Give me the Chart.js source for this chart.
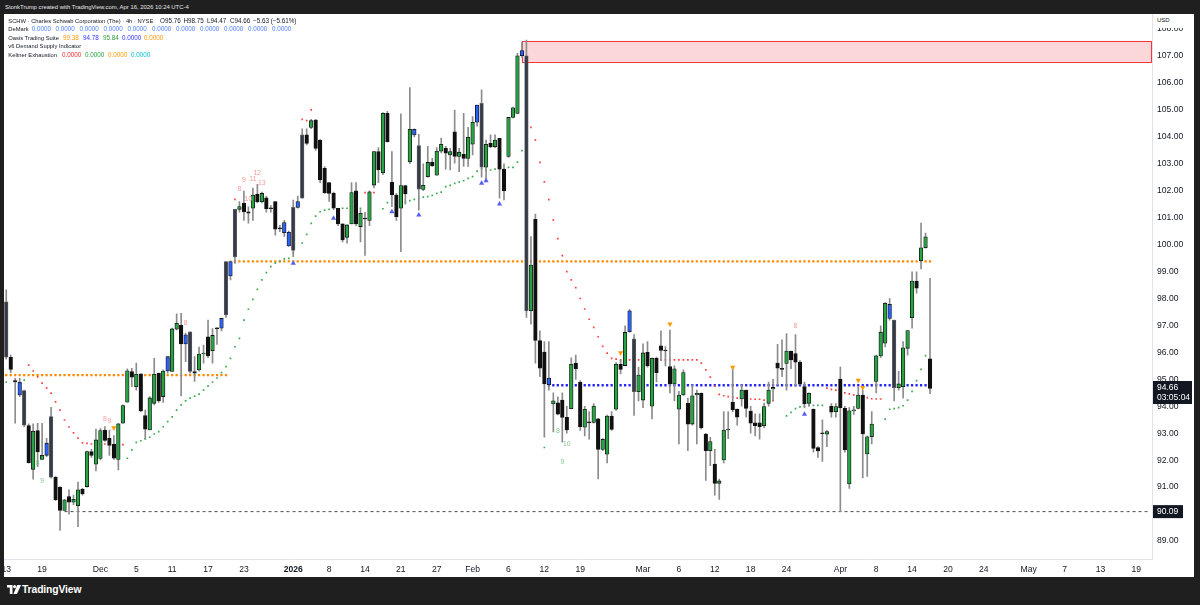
<!DOCTYPE html>
<html><head><meta charset="utf-8">
<script src="https://cdn.jsdelivr.net/npm/chart.js@4.4.1/dist/chart.umd.min.js"></script>
<style>
html,body{margin:0;padding:0;background:#1f1f1f;width:1200px;height:605px;overflow:hidden;font-family:"Liberation Sans",Arial,sans-serif;}
#hdr{position:absolute;left:5px;top:3px;color:#e8e8e8;font-size:5.9px;line-height:8px;white-space:nowrap;}
#panel{position:absolute;left:4px;top:14px;width:1190px;height:563px;background:#fff;}
#c{position:absolute;left:0;top:0;}
.ln{position:absolute;left:0;height:8px;line-height:8px;font-size:5.8px;color:#131722;white-space:nowrap;}
.ln span{position:absolute;top:0;}
.ln span.v{font-size:6.3px;}
#usd{position:absolute;left:1149px;top:0px;width:37px;height:14px;background:#fff;font-size:6px;line-height:13px;color:#131722;padding-left:4px;box-sizing:border-box;}
#foot{position:absolute;left:7px;top:584px;height:12px;}
#foot svg{position:absolute;left:0;top:1px;}
#foot span{position:absolute;left:15px;top:-1px;color:#fff;font-size:10.3px;font-weight:bold;line-height:13px;white-space:nowrap;letter-spacing:-0.1px;}
</style></head>
<body>
<div id="hdr">StonkTrump created with TradingView.com, Apr 16, 2026 10:24 UTC-4</div>
<div id="panel">
  <canvas id="c" width="1190" height="563"></canvas>
  <div class="ln" style="top:2.7px"><span style="left:4.3px">SCHW · Charles Schwab Corporation (The) · 4h · NYSE</span><span class="v" style="left:156px">O95.76</span><span class="v" style="left:179.5px">H98.75</span><span class="v" style="left:203px">L94.47</span><span class="v" style="left:226px">C94.66</span><span class="v" style="left:249px">−5.63 (−5.61%)</span></div>
  <div class="ln" style="top:11.2px"><span style="left:4.3px">DeMark</span><span class="v" style="left:27.7px;color:#4a7dff">0.0000</span><span class="v" style="left:51.5px;color:#4a7dff">0.0000</span><span class="v" style="left:75.5px;color:#4a7dff">0.0000</span><span class="v" style="left:99.5px;color:#4a7dff">0.0000</span><span class="v" style="left:123.5px;color:#4a7dff">0.0000</span><span class="v" style="left:148px;color:#4a7dff">0.0000</span><span class="v" style="left:172px;color:#4a7dff">0.0000</span><span class="v" style="left:196px;color:#4a7dff">0.0000</span><span class="v" style="left:220px;color:#4a7dff">0.0000</span><span class="v" style="left:244px;color:#4a7dff">0.0000</span><span class="v" style="left:268px;color:#4a7dff">0.0000</span></div>
  <div class="ln" style="top:19.7px"><span style="left:4.3px">Oasis Trading Suite</span><span class="v" style="left:59px;color:#ff9800">99.38</span><span class="v" style="left:79px;color:#3030ff">94.78</span><span class="v" style="left:99px;color:#2e9e3e">95.84</span><span class="v" style="left:118px;color:#3030ff">0.0000</span><span class="v" style="left:140px;color:#ff9800">0.0000</span></div>
  <div class="ln" style="top:28.2px"><span style="left:4.3px">v6 Demand Supply Indicator</span></div>
  <div class="ln" style="top:36.7px"><span style="left:4.3px">Keltner Exhaustion</span><span class="v" style="left:58px;color:#ff2a2a">0.0000</span><span class="v" style="left:81px;color:#26a23b">0.0000</span><span class="v" style="left:104px;color:#ff9800">0.0000</span><span class="v" style="left:127px;color:#00bcd4">0.0000</span></div>
  <div id="usd">USD</div>
</div>
<div id="foot">
  <svg width="14" height="9" viewBox="0 0 14 9"><path d="M0 0h5.5v9H2.8V2.6H0z" fill="#fff"/><circle cx="7.6" cy="1.6" r="1.6" fill="#fff"/><path d="M10.2 0H14l-4 9H6.4z" fill="#fff"/></svg>
  <span>TradingView</span>
</div>
<script>
// ---------- DATA ----------
const N_SLOTS = 256;
const X_TICKS = [[0,'13'],[8,'19'],[21,'Dec'],[29,'5'],[37,'11'],[45,'17'],[53,'23'],[64,'2026'],[72,'8'],[80,'14'],[88,'21'],[96,'27'],[104,'Feb'],[112,'6'],[120,'12'],[128,'19'],[142,'Mar'],[150,'6'],[158,'12'],[166,'18'],[174,'24'],[186,'Apr'],[194,'8'],[202,'14'],[210,'20'],[218,'24'],[228,'May'],[236,'7'],[244,'13'],[252,'19']];
const Y_TICKS = [89,90,91,92,93,94,95,96,97,98,99,100,101,102,103,104,105,106,107,108];
const Y_MIN = 88.313, Y_MAX = 108.559;

const OPEN = [97.88,95.82,94.95,94.89,94.58,93.28,91.66,93.10,92.03,92.18,
93.62,91.37,90.99,90.13,90.65,90.44,90.31,90.92,91.02,92.32,
91.85,92.06,93.12,92.81,92.59,92.03,93.37,94.15,95.29,94.73,
95.20,93.65,93.12,94.11,95.23,94.36,95.31,95.29,96.86,97.00,
96.31,96.76,95.29,95.35,95.94,96.58,96.06,96.90,96.90,97.39,
98.84,99.55,101.31,101.53,101.22,101.35,101.88,101.59,101.74,101.35,
101.60,100.62,100.82,100.46,99.78,101.38,101.72,104.07,104.35,104.62,
103.88,102.83,102.30,101.90,101.35,100.77,100.27,100.77,102.00,100.67,
100.97,100.90,102.21,103.45,102.67,104.87,102.31,101.84,101.35,102.19,
103.08,104.28,103.68,102.05,102.52,103.05,102.58,103.47,103.57,103.33,
104.19,103.27,103.35,103.20,103.73,104.54,105.24,102.87,103.76,103.63,
103.94,102.80,103.27,104.72,104.87,107.01,107.01,97.55,100.94,96.44,
96.01,95.05,94.09,94.13,94.23,93.59,93.91,95.60,94.89,93.22,
93.42,93.40,93.53,92.40,92.22,93.64,93.89,95.56,95.51,96.77,
96.50,94.54,94.23,96.00,94.00,95.78,96.24,96.08,95.47,94.83,
93.89,94.42,94.11,93.34,94.42,94.48,92.97,92.35,91.85,91.14,
92.01,93.12,94.15,93.90,94.27,94.60,93.82,93.39,93.39,93.28,
94.11,94.64,95.60,95.40,95.59,96.05,95.96,95.64,94.73,94.11,
93.90,92.47,93.00,92.96,94.00,93.80,95.01,93.92,91.12,93.83,
93.92,94.42,92.23,92.87,94.92,95.87,96.34,97.78,97.20,94.69,
94.73,96.15,97.29,98.65,99.40,99.88,95.76];
const HIGH = [98.32,95.90,95.04,95.04,94.60,93.35,93.35,93.37,93.37,92.81,
93.96,91.39,91.02,90.55,90.90,90.70,91.19,90.95,92.34,92.40,
93.15,93.17,93.25,93.12,92.91,93.37,94.05,95.39,95.41,95.60,
95.20,93.86,94.36,95.78,95.23,95.35,95.84,96.90,97.43,97.45,
96.72,96.76,95.84,96.20,96.27,97.20,96.88,96.92,97.26,99.37,
99.40,101.31,101.60,101.99,101.40,102.10,102.24,101.95,101.80,101.45,
101.60,100.72,100.90,100.50,101.65,101.80,104.30,104.30,104.65,104.65,
103.90,102.90,102.30,101.95,101.35,100.77,100.73,102.30,102.30,101.30,
101.20,102.00,103.46,103.60,104.90,104.95,103.45,101.90,104.85,102.20,
105.83,104.30,104.09,103.00,103.65,103.20,103.60,103.95,103.65,103.57,
104.99,103.57,104.87,104.35,104.75,105.18,105.74,103.88,104.07,104.07,
103.94,103.00,104.72,105.10,107.10,107.50,107.59,100.30,101.13,96.80,
96.40,96.40,94.50,94.35,94.50,94.00,95.80,95.90,94.95,94.00,
93.80,94.10,93.55,92.80,93.67,93.80,95.62,95.72,96.99,97.60,
96.66,95.45,96.32,96.40,95.80,95.83,96.80,96.22,96.83,95.50,
94.55,95.35,94.30,94.80,94.60,94.50,93.00,92.85,92.40,91.30,
93.80,93.80,95.40,93.90,94.80,94.60,94.00,93.72,93.72,94.12,
94.90,95.00,96.30,96.47,96.70,96.05,96.66,95.70,94.90,94.50,
93.90,92.50,93.50,93.10,94.10,94.10,95.45,94.00,93.95,94.00,
94.70,94.60,92.90,93.80,95.90,96.99,97.85,98.00,97.20,95.30,
96.40,96.81,98.99,98.99,100.80,100.43,98.75];
const LOW = [95.75,95.25,93.37,94.36,93.24,91.89,91.29,91.76,92.03,92.13,
91.33,90.50,89.39,90.13,90.00,90.35,89.53,90.70,91.00,92.10,
91.60,92.01,92.70,92.18,92.03,91.64,93.37,94.15,94.73,94.60,
93.80,92.79,93.12,94.05,94.14,94.14,95.23,95.29,96.83,94.38,
95.66,95.23,94.92,95.30,95.60,95.80,95.60,96.30,96.80,97.30,
98.69,99.30,101.20,100.90,100.80,100.90,101.55,101.55,101.20,101.20,
100.35,100.48,100.30,99.93,99.55,101.35,101.72,103.70,104.30,103.50,
102.30,101.90,101.60,101.30,100.70,100.10,100.05,100.77,100.70,100.10,
99.60,100.70,102.10,102.30,102.60,103.80,101.41,100.90,99.74,101.50,
103.00,104.00,101.28,102.00,102.50,102.90,102.58,103.40,102.80,102.77,
103.02,102.71,102.90,102.90,103.33,104.40,102.50,102.40,103.60,103.60,
101.72,101.66,103.24,104.70,104.85,106.95,97.30,97.05,95.60,95.10,
92.85,94.60,93.05,93.68,92.67,93.00,93.90,95.00,93.10,92.90,
92.78,93.37,91.30,92.35,91.90,93.10,93.85,95.20,95.50,96.75,
93.66,94.20,93.95,95.45,93.53,94.90,95.70,95.50,94.50,94.20,
92.60,94.40,92.35,93.30,92.60,93.15,91.25,91.80,90.70,90.54,
91.90,92.80,93.80,93.30,94.00,93.60,93.00,92.90,92.78,93.20,
94.00,94.20,94.80,95.10,94.60,95.40,94.75,94.80,93.95,94.00,
92.30,92.10,91.95,92.50,93.60,93.60,90.09,92.30,90.95,93.70,
93.90,91.34,91.40,92.60,94.50,95.80,96.20,97.20,94.20,94.60,
94.30,95.90,96.90,98.20,99.10,99.88,94.47];
const CLOSE = [95.82,95.37,94.90,94.42,93.30,91.91,93.07,92.31,92.18,92.63,
91.37,90.53,90.13,90.53,90.44,90.55,90.90,90.75,92.32,92.18,
92.75,93.10,92.73,92.55,92.07,93.35,94.03,95.32,95.08,95.19,
93.83,93.15,94.31,95.19,94.20,95.31,95.84,96.87,97.08,96.31,
96.65,95.29,95.23,95.94,95.97,95.87,96.63,96.87,97.26,99.37,
99.37,101.31,101.41,101.22,101.17,101.84,101.59,101.90,101.32,101.33,
100.57,100.58,100.44,99.95,101.38,101.60,104.07,103.76,104.60,103.57,
102.40,101.93,101.90,101.35,100.77,100.17,100.73,101.93,100.77,101.16,
100.95,101.96,103.45,102.77,104.87,103.82,101.84,101.04,102.19,101.88,
104.28,104.07,102.06,102.20,103.05,102.92,103.47,103.72,103.39,103.45,
103.27,103.43,103.20,103.98,104.54,105.18,102.87,103.72,103.63,103.88,
102.80,102.00,104.72,105.08,107.01,107.20,97.55,99.24,96.44,95.41,
94.83,94.80,94.20,93.71,93.59,93.12,95.56,95.40,93.24,93.89,
93.38,94.01,92.40,92.77,93.64,93.14,95.56,95.37,96.74,97.54,
94.54,95.16,95.98,95.50,95.78,95.25,96.07,96.05,94.83,95.39,
94.42,95.25,93.34,94.39,94.48,93.21,92.35,92.69,91.14,91.23,
93.12,93.14,93.86,93.60,94.60,93.92,93.37,93.28,93.24,93.99,
94.60,94.70,95.41,95.37,96.05,95.72,95.64,94.82,94.09,94.48,
92.44,92.34,92.98,93.06,93.78,93.99,93.95,92.38,93.83,93.86,
94.42,92.97,92.87,93.34,95.87,96.75,97.82,97.26,94.69,94.83,
96.17,96.81,98.65,98.38,99.88,100.29,94.66];

// indicator-highlighted bars
const BLUE_BARS = [3,9,36,40,48,50,62,63,65,91,105,115,121,139,197];
const EXHAUST_BARS = [0,4,10,41,49,51,64,66,92,106,116,140,198];

// trailing stops [barIndex, price]
const RED_STOPS = [[5,95.53],[6,95.31],[7,95.09],[8,94.86],[9,94.68],[10,94.49],[11,94.16],[12,93.86],[13,93.49],[14,93.23],[15,93.01],[16,92.82],[17,92.64],[18,92.62],[19,92.60],[22,92.60],[23,92.60],[26,92.58],
[51,101.68],[66,104.65],[67,104.60],[68,105.00],[80,101.93],[81,101.93],[82,101.93],
[117,104.35],[118,103.88],[119,103.05],[120,102.33],[121,101.67],[122,100.91],[123,100.22],[124,99.59],[125,99.00],[126,98.69],[127,98.40],[128,98.00],[129,97.61],[130,97.23],[131,96.93],[132,96.58],[133,96.22],[134,95.97],[135,95.78],[136,95.75],
[137,95.72],[138,95.72],[139,95.72],[140,95.72],[141,95.72],[142,95.72],[143,95.72],[144,95.72],[145,95.72],[146,95.72],[147,95.72],[148,95.72],[149,95.72],[150,95.72],[151,95.72],[152,95.72],[153,95.72],[154,95.72],
[155,95.60],[156,95.35],[157,95.08],[158,94.75],[159,94.44],[160,94.39],[161,94.36],[162,94.33],[163,94.30],[164,94.29],[165,94.28],[166,94.27],[167,94.26],[168,94.26],[169,94.23],[170,94.21],[171,94.21],
[183,94.67],[184,94.63],[185,94.60],[186,94.55],[187,94.50],[188,94.46],[189,94.42],[190,94.38],[191,94.35],[192,94.32],[193,94.28],[194,94.27],[195,94.27]];
const GREEN_STOPS = [[0,94.90],[4,94.97],
[27,92.07],[28,92.38],[29,92.66],[30,92.72],[31,92.79],[32,92.85],[33,92.97],[34,93.06],[35,93.24],[36,93.43],[37,93.61],[38,93.86],[39,94.05],[40,94.20],[41,94.30],[42,94.38],[43,94.45],[44,94.60],[45,94.75],[46,94.90],[47,95.05],[48,95.25],[49,95.47],[50,95.78],[51,96.21],[52,96.52],[53,97.20],[54,97.60],[55,97.97],[56,98.34],[57,98.69],[58,98.96],[59,99.18],[60,99.31],[61,99.38],[62,99.47],[63,99.49],[64,99.69],[66,100.06],[67,100.38],[68,100.79],[69,101.06],[70,101.22],[71,101.28],[72,101.31],
[75,101.35],[76,101.35],[79,101.35],[84,101.33],[85,101.56],
[89,101.57],[90,101.63],[91,101.68],[92,101.72],[93,101.76],[94,101.78],[95,101.83],[96,101.90],[97,101.95],[98,102.15],[99,102.20],[100,102.27],[101,102.32],[102,102.37],[103,102.46],[104,102.52],[105,102.73],[106,102.82],[107,102.77],[108,102.77],[109,102.80],[110,102.82],[111,102.82],[112,102.87],[113,102.87],[114,103.06],[115,103.49],
[120,92.47],
[174,93.64],[175,93.77],[176,93.91],[177,93.98],[178,94.00],[179,94.03],[180,94.03],[181,94.03],[182,94.03],
[196,93.52],[197,93.89],[198,93.91],[199,93.95],[200,94.02],[201,94.23],[202,94.55],[203,94.95],[204,95.37],[205,95.88]];

// signal markers [barIndex, price]
const BUY_SIGNALS = [[64,99.31],[73,100.98],[86,101.22],[92,101.10],[106,102.28],[107,102.37],[110,101.51],[178,93.70]];
const SELL_SIGNALS = [[24,93.20],[137,95.99],[148,97.05],[162,95.45],[190,94.97],[191,94.70]];

// DeMark counts [barIndex, price, label]
const DEMARK_RED = [[22,93.54,'8'],[23,93.46,'9'],[40,97.08,'8'],[52,102.05,'8'],[53,102.40,'9'],[54,101.68,'10'],[55,102.43,'11'],[56,102.65,'12'],[57,102.28,'13'],[176,96.98,'8']];
const DEMARK_GREEN = [[7,91.88,'8'],[8,91.24,'9'],[123,93.06,'8'],[124,91.93,'9'],[125,92.59,'10']];

// levels [fromIndex, toIndex, price]
const LEVEL_SUPPLY = [51, 206, 99.38];
const LEVEL_OLD = [0, 49, 95.16];
const LEVEL_DEMAND = [121, 206, 94.78];
const LEVEL_LOW = [13, 255, 90.09];
const ZONE = [115, 106.78, 107.56];   // start bar, low, high
const LAST_PRICE = 94.66, LAST_TIMER = '03:05:04';

// ---------- BUILD ----------
const FONT = '"Liberation Sans", Arial, sans-serif';
Chart.defaults.font.family = FONT;
const labels = new Array(N_SLOTS).fill('');
X_TICKS.forEach(([i, t]) => labels[i] = t);
function sparse(pairs) { const a = new Array(N_SLOTS).fill(null); pairs.forEach(([i, v]) => a[i] = v); return a; }
function level(l) { const a = new Array(N_SLOTS).fill(null); for (let i = l[0]; i <= l[1]; i++) a[i] = l[2]; return a; }

const bodyData = OPEN.map((o, i) => [Math.min(o, CLOSE[i]), Math.max(o, CLOSE[i])]);
const wickData = HIGH.map((h, i) => [LOW[i], h]);
const bodyFill = OPEN.map((o, i) => EXHAUST_BARS.includes(i) ? '#363a45' : BLUE_BARS.includes(i) ? '#2962ff' : (CLOSE[i] >= o ? '#27a343' : '#101010'));
const bodyEdge = OPEN.map((o, i) => EXHAUST_BARS.includes(i) ? '#5d616b' : '#121212');

const annot = {
  id: 'annot',
  beforeDatasetsDraw(chart) {
    const {ctx, chartArea: ca, scales: {x, y}} = chart;
    const x0 = x.getPixelForValue(ZONE[0]);
    const yt = y.getPixelForValue(ZONE[2]), yb = y.getPixelForValue(ZONE[1]);
    ctx.save();
    ctx.fillStyle = 'rgba(242,54,69,0.2)';
    ctx.fillRect(x0, yt, ca.right - x0, yb - yt);
    ctx.strokeStyle = '#f23645'; ctx.lineWidth = 1;
    ctx.strokeRect(Math.round(x0) + 0.5, Math.round(yt) + 0.5, ca.right - Math.round(x0) - 1, Math.round(yb - yt));
    ctx.restore();
  },
  afterDatasetsDraw(chart) {
    const {ctx, scales: {x, y}} = chart;
    ctx.save();
    ctx.font = '6.8px ' + FONT; ctx.textAlign = 'center'; ctx.textBaseline = 'middle';
    ctx.fillStyle = '#f59a9a';
    DEMARK_RED.forEach(([i, p, t]) => ctx.fillText(t, x.getPixelForValue(i), y.getPixelForValue(p)));
    ctx.fillStyle = '#7fcb8d';
    DEMARK_GREEN.forEach(([i, p, t]) => ctx.fillText(t, x.getPixelForValue(i), y.getPixelForValue(p)));
    ctx.restore();
  },
  afterDraw(chart) {
    const {ctx, chartArea: ca, scales: {y}} = chart;
    ctx.save();
    const py = y.getPixelForValue(LAST_PRICE);
    ctx.fillStyle = '#131722';
    ctx.fillRect(ca.right + 1, py - 7.5, 39, 23);
    ctx.fillStyle = '#fff'; ctx.font = '8.5px ' + FONT; ctx.textBaseline = 'middle'; ctx.textAlign = 'left';
    ctx.fillText(LAST_PRICE.toFixed(2), ca.right + 5, py - 1);
    ctx.fillText(LAST_TIMER, ca.right + 5, py + 9.5);
    const ly = y.getPixelForValue(LEVEL_LOW[2]);
    ctx.fillStyle = '#131722';
    ctx.fillRect(ca.right + 1, ly - 6.5, 30, 13);
    ctx.fillStyle = '#fff';
    ctx.fillText(LEVEL_LOW[2].toFixed(2), ca.right + 5, ly);
    ctx.restore();
  }
};

new Chart(document.getElementById('c'), {
  type: 'bar',
  data: {
    labels,
    datasets: [
      {type: 'line', data: level(LEVEL_LOW), borderColor: '#4a4a4a', borderWidth: 1, borderDash: [3, 3], pointRadius: 0, order: 9},
      {type: 'line', data: level(LEVEL_SUPPLY), showLine: false, pointStyle: 'rect', pointRadius: 1.6, pointBackgroundColor: '#ff8a00', pointBorderWidth: 0, order: 8},
      {type: 'line', data: level(LEVEL_OLD), showLine: false, pointStyle: 'rect', pointRadius: 1.6, pointBackgroundColor: '#ff8a00', pointBorderWidth: 0, order: 8},
      {type: 'line', data: level(LEVEL_DEMAND), showLine: false, pointStyle: 'rect', pointRadius: 1.6, pointBackgroundColor: '#2525ff', pointBorderWidth: 0, order: 8},
      {type: 'line', data: sparse(RED_STOPS), showLine: false, pointStyle: 'rect', pointRadius: 1.2, pointBackgroundColor: '#ff4040', pointBorderWidth: 0, order: 7},
      {type: 'line', data: sparse(GREEN_STOPS), showLine: false, pointStyle: 'rect', pointRadius: 1.2, pointBackgroundColor: '#3daa4e', pointBorderWidth: 0, order: 7},
      {type: 'bar', data: wickData, backgroundColor: '#8c8c8c', barThickness: 1, grouped: false, borderWidth: 0, order: 5},
      {type: 'bar', data: bodyData, backgroundColor: bodyFill, borderColor: bodyEdge, borderWidth: 0.8, borderSkipped: false, barThickness: 3.6, grouped: false, minBarLength: 1, order: 4},
      {type: 'line', data: sparse(BUY_SIGNALS), showLine: false, pointStyle: 'triangle', pointRadius: 3, pointBackgroundColor: '#5560f0', pointBorderWidth: 0, order: 2},
      {type: 'line', data: sparse(SELL_SIGNALS), showLine: false, pointStyle: 'triangle', pointRotation: 180, pointRadius: 3, pointBackgroundColor: '#ff9800', pointBorderWidth: 0, order: 2}
    ]
  },
  options: {
    responsive: false, animation: false, events: [],
    layout: {padding: 0, autoPadding: false},
    plugins: {legend: {display: false}, tooltip: {enabled: false}},
    scales: {
      x: {
        type: 'category', offset: true,
        grid: {display: false, drawTicks: false},
        border: {display: true, color: '#e0e3eb', width: 1},
        ticks: {
          autoSkip: false, maxRotation: 0, minRotation: 0, padding: 5, color: '#131722',
          font: (c) => ({family: FONT, size: 8.6, weight: (c.tick && c.tick.label === '2026') ? 'bold' : 'normal'})
        },
        afterBuildTicks: (s) => { s.ticks = X_TICKS.map(([i]) => ({value: i})); },
        afterFit: (s) => { s.height = 17.5; s.paddingLeft = 0; s.paddingRight = 0; }
      },
      y: {
        type: 'linear', position: 'right', min: Y_MIN, max: Y_MAX,
        grid: {display: false, drawTicks: false},
        border: {display: true, color: '#e0e3eb', width: 1},
        ticks: {padding: 5, color: '#131722', font: {family: FONT, size: 8.6}, callback: (v) => Number(v).toFixed(2)},
        afterBuildTicks: (s) => { s.ticks = Y_TICKS.map(v => ({value: v})); },
        afterFit: (s) => { s.width = 42; s.paddingTop = 0; s.paddingBottom = 0; }
      }
    }
  },
  plugins: [annot]
});
</script>
</body></html>
